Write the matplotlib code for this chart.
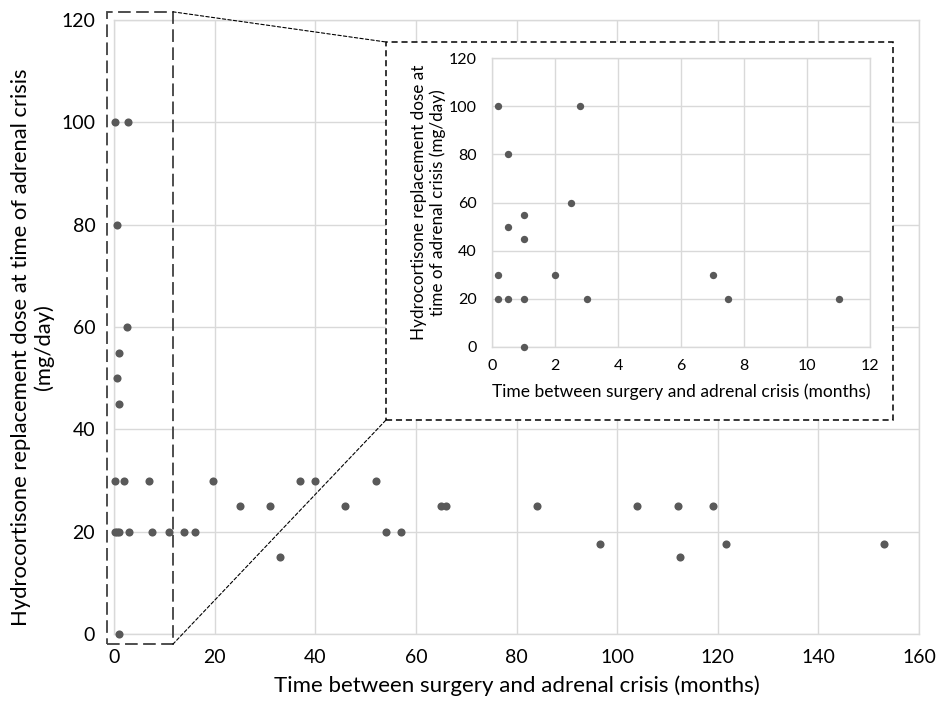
import matplotlib
matplotlib.use("Agg")
import matplotlib.pyplot as plt
from matplotlib.patches import Rectangle, ConnectionPatch

plt.rcParams['font.family'] = ['Lato', 'DejaVu Sans']

# crises within the first year (months, mg/day)
early_months = [0.2, 2.8, 0.5, 2.5, 1, 0.5, 1, 0.2, 2, 7, 0.2, 0.5, 1, 3, 7.5, 11, 1]
early_dose = [100, 100, 80, 60, 55, 50, 45, 30, 30, 30, 20, 20, 20, 20, 20, 20, 0]

# later crises
late_months = [14, 16, 19.7, 25, 31, 33, 37, 40, 46, 52, 54, 57, 65, 66, 84,
               96.5, 104, 112, 112.5, 119, 121.7, 153]
late_dose = [20, 20, 30, 25, 25, 15, 30, 30, 25, 30, 20, 20, 25, 25, 25,
             17.5, 25, 25, 15, 25, 17.5, 17.5]

main_xticks = [0, 20, 40, 60, 80, 100, 120, 140, 160]
inset_xticks = [0, 2, 4, 6, 8, 10, 12]
yticks = [0, 20, 40, 60, 80, 100, 120]

dot = '#595959'
grid = '#d9d9d9'

W, H = 940, 704
fig = plt.figure(figsize=(9.4, 7.04), dpi=100)

def frac(x0, y0, x1, y1):
    # pixel box (top-left origin) -> figure fraction rect
    return [x0 / W, 1 - y1 / H, (x1 - x0) / W, (y1 - y0) / H]

def style(ax, size):
    for s in ax.spines.values():
        s.set_color(grid)
        s.set_linewidth(1)
    ax.grid(True, color=grid, linewidth=1)
    ax.set_axisbelow(True)
    ax.tick_params(length=0, labelsize=size, colors='black')

ax = fig.add_axes(frac(114, 20, 919, 634))
ax.scatter(early_months + late_months, early_dose + late_dose, s=34, color=dot,
           linewidths=0, zorder=3, clip_on=False)
ax.set_xlim(0, 160)
ax.set_ylim(0, 120)
ax.set_xticks(main_xticks)
ax.set_yticks(yticks)
style(ax, 14)
ax.tick_params(axis='y', pad=13.5)
ax.tick_params(axis='x', pad=11)
ax.set_xlabel('Time between surgery and adrenal crisis (months)', fontsize=16)
ax.xaxis.set_label_coords(0.5, -0.068)
ax.set_ylabel('Hydrocortisone replacement dose at time of adrenal crisis\n(mg/day)',
              fontsize=15.8, linespacing=1.15)
ax.yaxis.set_label_coords(-0.074, 0.467)

# zoom box on the first year
zx0, zx1, zy0, zy1 = -1.4, 11.7, -2.0, 121.6
ax.add_patch(Rectangle((zx0, zy0), zx1 - zx0, zy1 - zy0, fill=False,
                       edgecolor='#404040', linestyle=(0, (7, 3)), linewidth=1.3,
                       clip_on=False, zorder=4))

# inset frame
bx0, by0, bx1, by1 = 386, 42, 893, 420
fig.patches.append(Rectangle((bx0 / W, 1 - by1 / H), (bx1 - bx0) / W, (by1 - by0) / H,
                             transform=fig.transFigure, facecolor='white',
                             edgecolor='black', linestyle=(0, (4, 2.5)), linewidth=1.1,
                             zorder=5))
for (dx, dy), (fx, fy) in [((zx1, zy1), (bx0, by0)), ((zx1, zy0), (bx0, by1))]:
    fig.add_artist(ConnectionPatch((dx, dy), (fx / W, 1 - fy / H),
                                   coordsA=ax.transData, coordsB=fig.transFigure,
                                   color='black', linestyle=(0, (3, 2)), linewidth=0.8,
                                   zorder=4))

ins = fig.add_axes(frac(492, 58, 870, 347))
ins.set_zorder(6)
ins.scatter(early_months, early_dose, s=28, color=dot, linewidths=0, zorder=3, clip_on=False)
ins.set_xlim(0, 12)
ins.set_ylim(0, 120)
ins.set_xticks(inset_xticks)
ins.set_yticks(yticks)
style(ins, 11.5)
ins.tick_params(axis='y', pad=11)
ins.tick_params(axis='x', pad=9)
ins.set_xlabel('Time between surgery and adrenal crisis (months)', fontsize=12.5)
ins.xaxis.set_label_coords(0.5, -0.125)
ins.set_ylabel('Hydrocortisone replacement dose at\ntime of adrenal crisis (mg/day)',
               fontsize=12.3, linespacing=1.15)
ins.yaxis.set_label_coords(-0.122, 0.5)

fig.savefig('out.png', dpi=100)
